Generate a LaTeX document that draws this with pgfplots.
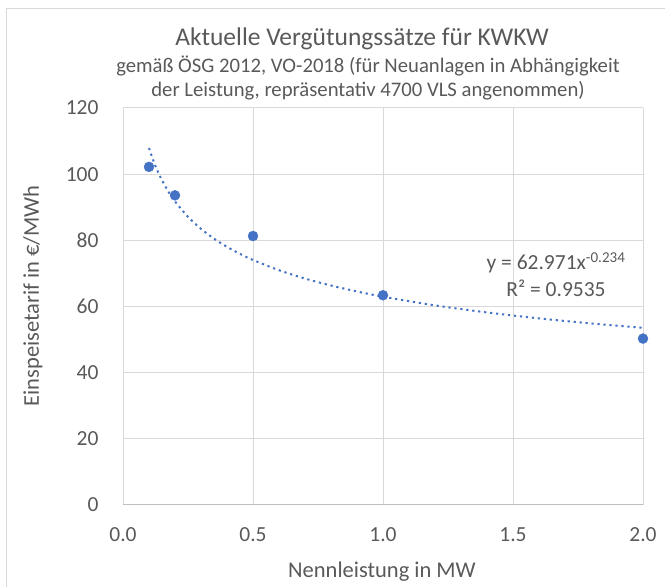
\documentclass[border=0pt]{standalone}
\usepackage{fontspec}
\setmainfont{Carlito}
\usepackage{pgfplots}
\pgfplotsset{compat=1.18}
\definecolor{xlblue}{HTML}{4472C4}
\definecolor{xlgray}{HTML}{595959}
\definecolor{xlgrid}{HTML}{D9D9D9}
\definecolor{xlaxis}{HTML}{BFBFBF}
\begin{document}
\begin{tikzpicture}[x=1pt,y=1pt]
\useasboundingbox (0,0) rectangle (665,587);
\draw[xlgrid, line width=1pt] (6,0) -- (6,578) -- (665,578);
\begin{axis}[
  at={(123pt,82pt)}, anchor=south west,
  scale only axis, width=520pt, height=397pt,
  xmin=0, xmax=2, ymin=0, ymax=120,
  xtick={0,0.5,1,1.5,2}, ytick={0,20,40,60,80,100,120},
  grid=major, major grid style={xlgrid, line width=1pt},
  axis line style={draw=none},
  major tick length=0pt,
  clip=false,
  /pgf/number format/assume math mode=true,
  tick label style={font=\fontsize{21.5}{25}\selectfont, text=xlgray},
  xticklabel style={yshift=-19pt, /pgf/number format/.cd, fixed, fixed zerofill, precision=1},
  yticklabel style={xshift=-21pt, /pgf/number format/.cd, fixed},
]
\draw[xlaxis, line width=1pt] (axis cs:0,0) -- (axis cs:2,0);
\addplot[xlblue, line width=2pt, dash pattern=on 2.2pt off 3.8pt, smooth] coordinates {
(0.10,107.9) (0.11,105.55) (0.12,103.42) (0.13,101.50) (0.14,99.76) (0.15,98.16)
(0.175,94.68) (0.2,91.77) (0.25,87.10) (0.3,83.46) (0.35,80.51) (0.4,78.03)
(0.45,75.91) (0.5,74.06) (0.6,70.97) (0.7,68.45) (0.8,66.35) (0.9,64.54)
(1.0,62.97) (1.2,60.34) (1.4,58.20) (1.6,56.41) (1.8,54.88) (2.0,53.54)
};
\addplot[only marks, mark=*, mark size=5pt, mark options={fill=xlblue, draw=xlblue}] coordinates {
(0.1,102.2) (0.2,93.6) (0.5,81.3) (1.0,63.4) (2.0,50.3)
};
\end{axis}
\node[text=xlgray, font=\fontsize{25.5}{30}\selectfont, anchor=base, inner sep=0pt] at (362,541) {Aktuelle Vergütungssätze für KWKW};
\node[text=xlgray, font=\fontsize{20.7}{24}\selectfont, anchor=base, inner sep=0pt] at (368,514) {gemäß ÖSG 2012, VO-2018 (für Neuanlagen in Abhängigkeit};
\node[text=xlgray, font=\fontsize{20.7}{24}\selectfont, anchor=base, inner sep=0pt] at (368,490) {der Leistung, repräsentativ 4700 VLS angenommen)};
\node[text=xlgray, font=\fontsize{22.5}{26}\selectfont, rotate=90] at (33,291) {Einspeisetarif in €/MWh};
\node[text=xlgray, font=\fontsize{22.5}{26}\selectfont] at (382,15) {Nennleistung in MW};
\node[text=xlgray, font=\fontsize{21.5}{25}\selectfont, anchor=base, inner sep=0pt] at (556,317) {y = 62.971x\textsuperscript{-0.234}};
\node[text=xlgray, font=\fontsize{21.5}{25}\selectfont, anchor=base, inner sep=0pt] at (556,290) {R² = 0.9535};
\end{tikzpicture}
\end{document}
